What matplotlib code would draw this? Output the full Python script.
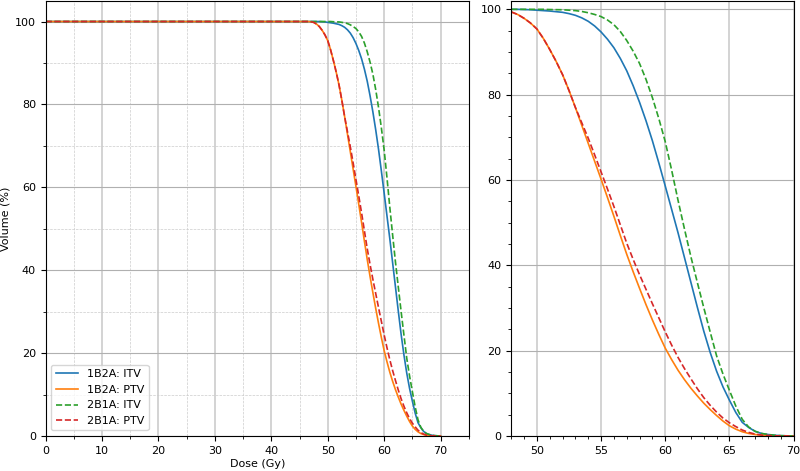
import numpy as np
import matplotlib
matplotlib.use('Agg')
import matplotlib.pyplot as plt
from matplotlib.ticker import MultipleLocator

# ── DVH data (dose in Gy, cumulative volume in %) ──────────────
dose = [0, 45, 46, 46.5, 47, 47.5, 48, 48.5, 49, 49.5, 50, 50.5, 51, 51.5,
        52, 52.5, 53, 53.5, 54, 54.5, 55, 55.5, 56, 56.5, 57, 57.5, 58,
        58.5, 59, 59.5, 60, 60.5, 61, 61.5, 62, 62.5, 63, 63.5, 64, 64.5,
        65, 65.5, 66, 66.5, 67, 67.5, 68, 68.5, 69, 70]

itv_1b2a = [100, 100, 100, 100, 100, 100, 100, 100, 99.95, 99.9, 99.8,
            99.7, 99.6, 99.45, 99.3, 99.0, 98.6, 98.0, 97.2, 96.1, 94.7,
            93.0, 91.0, 88.5, 85.6, 82.1, 78.2, 73.9, 69.2, 64.0, 58.6,
            53.1, 47.6, 41.8, 36.0, 30.2, 24.6, 19.6, 15.2, 11.5, 8.4,
            5.5, 3.2, 2.0, 1.1, 0.6, 0.35, 0.18, 0.08, 0]
ptv_1b2a = [100, 100, 100, 100, 99.95, 99.8, 99.4, 98.8, 97.9, 96.8, 95.4,
            93.2, 90.6, 87.8, 84.7, 81.0, 77.0, 72.8, 68.6, 64.4, 60.2,
            55.9, 51.5, 47.0, 42.6, 38.5, 34.6, 30.8, 27.2, 23.8, 20.6,
            17.9, 15.4, 13.2, 11.2, 9.4, 7.7, 6.2, 4.8, 3.5, 2.4,
            1.6, 1.0, 0.6, 0.35, 0.18, 0.08, 0.03, 0.01, 0]
itv_2b1a = [100, 100, 100, 100, 100, 100, 100, 100, 100, 100, 100,
            100, 99.95, 99.92, 99.9, 99.8, 99.7, 99.5, 99.2, 98.8, 98.3,
            97.5, 96.4, 94.8, 92.7, 90.2, 87.3, 83.6, 79.3, 74.4, 69.0,
            62.3, 55.2, 48.5, 42.0, 36.0, 30.1, 24.4, 18.8, 14.5, 10.7,
            7.0, 3.9, 2.1, 1.1, 0.6, 0.35, 0.18, 0.08, 0]
ptv_2b1a = [100, 100, 100, 100, 99.95, 99.8, 99.4, 98.8, 97.9, 96.8, 95.4,
            93.2, 90.6, 87.8, 84.7, 81.0, 77.0, 73.4, 69.8, 65.9, 61.9,
            57.9, 53.8, 49.5, 45.2, 41.4, 37.8, 34.4, 31.0, 27.7, 24.4,
            21.3, 18.4, 15.8, 13.4, 11.1, 9.0, 7.2, 5.6, 4.2, 3.1,
            2.2, 1.4, 0.85, 0.45, 0.22, 0.1, 0.04, 0.02, 0]

series = [
    ('1B2A: ITV', itv_1b2a, '-', 'tab:blue'),
    ('1B2A: PTV', ptv_1b2a, '-', 'tab:orange'),
    ('2B1A: ITV', itv_2b1a, '--', 'tab:green'),
    ('2B1A: PTV', ptv_2b1a, '--', 'tab:red'),
]

plt.rcParams['font.size'] = 8

fig = plt.figure(figsize=(8, 4.71), dpi=100)
ax1 = fig.add_axes([0.057, 0.0743, 0.529, 0.924])
ax2 = fig.add_axes([0.639, 0.0743, 0.353, 0.924])

for ax in (ax1, ax2):
    for label, vol, ls, col in series:
        ax.plot(dose, vol, ls, color=col, lw=1.2, label=label)

# ── Left panel: full range ─────────────────────────────────────
ax1.set_xlim(0, 75)
ax1.set_ylim(0, 105)
ax1.xaxis.set_major_locator(MultipleLocator(10))
ax1.xaxis.set_minor_locator(MultipleLocator(5))
ax1.yaxis.set_major_locator(MultipleLocator(20))
ax1.yaxis.set_minor_locator(MultipleLocator(10))
ax1.grid(which='major', axis='x', color='#cccccc', lw=1.2)
ax1.grid(which='major', axis='y', color='#b0b0b0', lw=0.8)
ax1.grid(which='minor', color='#cccccc', ls='--', lw=0.5)
ax1.set_xlabel('Dose (Gy)', labelpad=2)
ax1.set_ylabel('Volume (%)', labelpad=3)
ax1.legend(loc='lower left')

# ── Right panel: zoom on the fall-off ──────────────────────────
ax2.set_xlim(48, 70)
ax2.set_ylim(0, 102)
ax2.xaxis.set_major_locator(MultipleLocator(5))
ax2.xaxis.set_minor_locator(MultipleLocator(1))
ax2.yaxis.set_major_locator(MultipleLocator(20))
ax2.yaxis.set_minor_locator(MultipleLocator(5))
ax2.grid(which='major', axis='x', color='#cccccc', lw=1.2)
ax2.grid(which='major', axis='y', color='#b0b0b0', lw=0.8)

fig.savefig('out.png', dpi=100, facecolor='white')
